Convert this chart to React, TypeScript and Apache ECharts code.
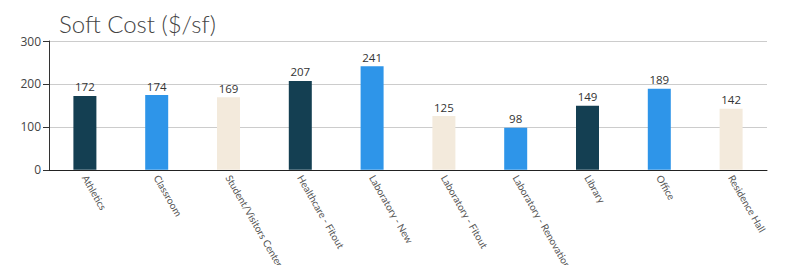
import React, { useEffect, useRef } from "react";
import * as echarts from "echarts";

const categories = [
  "Athletics",
  "Classroom",
  "Student/Visitors Center",
  "Healthcare - Fitout",
  "Laboratory - New",
  "Laboratory - Fitout",
  "Laboratory - Renovation",
  "Library",
  "Office",
  "Residence Hall",
];
const values = [172, 174, 169, 207, 241, 125, 98, 149, 189, 142];
const colorKeys = ["dark", "blue", "beige", "dark", "blue", "beige", "blue", "dark", "blue", "beige"];
const palette: Record<string, string> = { dark: "#143F52", blue: "#2E95E9", beige: "#F3EADC" };

export default function App() {
  const ref = useRef<HTMLDivElement>(null);
  useEffect(() => {
    const chart = echarts.init(ref.current!, null, { renderer: "svg" });
    chart.setOption({
      animation: false,
      title: {
        text: "Soft Cost ($/sf)",
        left: 46,
        top: -2,
        textStyle: { fontFamily: "Lato", fontWeight: 300, fontSize: 24, color: "#444" },
      },
      grid: { left: 41, right: 41, top: 33, bottom: 102 },
      xAxis: {
        type: "category",
        data: categories,
        axisLine: { lineStyle: { color: "#222", width: 1 } },
        axisTick: { alignWithLabel: true, length: 6, lineStyle: { color: "#333" } },
        axisLabel: {
          rotate: -60,
          interval: 0,
          color: "#555",
          fontFamily: "Lato",
          fontSize: 10,
          margin: 6,
        },
      },
      yAxis: {
        type: "value",
        min: 0,
        max: 300,
        interval: 100,
        axisLine: { show: true, lineStyle: { color: "#333" } },
        axisTick: { show: true, length: 6, lineStyle: { color: "#333" } },
        splitLine: { lineStyle: { color: "#ccc" } },
        axisLabel: { color: "#444", fontFamily: "Open Sans", fontSize: 12, margin: 8 },
      },
      series: [
        {
          type: "bar",
          barWidth: 23,
          data: values.map((v, i) => ({ value: v, itemStyle: { color: palette[colorKeys[i]] } })),
          label: {
            show: true,
            position: "top",
            distance: 3,
            color: "#333",
            fontFamily: "Open Sans",
            fontSize: 11.5,
          },
        },
      ],
    });
    return () => chart.dispose();
  }, []);
  return <div ref={ref} style={{ width: 800, height: 265 }} />;
}
